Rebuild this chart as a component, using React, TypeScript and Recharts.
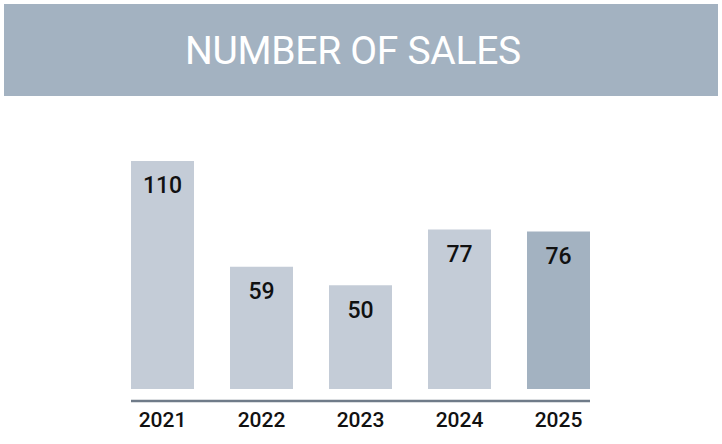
import React from "react";
import { BarChart, Bar, XAxis, YAxis, Cell, LabelList } from "recharts";

const years = ["2021", "2022", "2023", "2024", "2025"];
const sales = [110, 59, 50, 77, 76];
const highlightYear = "2025";

const data = years.map((y, i) => ({ year: y, sales: sales[i] }));

const BAR = 63;
const GAP = 36;

const Tick = (props: any) => {
  const { x, y, payload, index, visibleTicksCount } = props;
  const n = visibleTicksCount ?? years.length;
  const left = index === 0 ? x - BAR / 2 : x - BAR / 2 - GAP / 2;
  const right = index === n - 1 ? x + BAR / 2 : x + BAR / 2 + GAP / 2;
  return (
    <g>
      <line x1={left} x2={right} y1={y + 12} y2={y + 12} stroke="#6F7B89" strokeWidth={2.5} />
      <text
        x={x}
        y={y + 38}
        textAnchor="middle"
        fontSize={21}
        fontWeight={500}
        fill="#111"
        fontFamily="Roboto, sans-serif"
      >
        {payload.value}
      </text>
    </g>
  );
};

export default function App() {
  return (
    <div style={{ position: "absolute", left: 0, top: 0, width: 722, height: 444, background: "#fff" }}>
      <div
        style={{
          position: "absolute",
          left: 4,
          top: 4,
          width: 714,
          height: 92,
          background: "#A3B2C1",
          color: "#fff",
          display: "flex",
          alignItems: "center",
          justifyContent: "center",
          fontFamily: "Roboto, sans-serif",
          fontSize: 39,
          letterSpacing: -0.3,
          paddingTop: 2,
          paddingRight: 16,
          boxSizing: "border-box",
        }}
      >
        NUMBER OF SALES
      </div>
      <div style={{ position: "absolute", left: 0, top: 0 }}>
        <BarChart
          width={722}
          height={444}
          data={data}
          margin={{ top: 161, right: 114, bottom: 15, left: 113 }}
          barCategoryGap={GAP / 2}
        >
          <XAxis
            dataKey="year"
            axisLine={false}
            tickLine={false}
            tickSize={0}
            tickMargin={0}
            height={40}
            interval={0}
            tick={<Tick />}
          />
          <YAxis hide domain={[0, 110]} />
          <Bar dataKey="sales" isAnimationActive={false} barSize={BAR}>
            {data.map((d) => (
              <Cell key={d.year} fill={d.year === highlightYear ? "#A3B2C1" : "#C4CCD7"} />
            ))}
            <LabelList
              dataKey="sales"
              position="insideTop"
              offset={16}
              fontSize={23}
              fontWeight={500}
              fill="#111"
              fontFamily="Roboto, sans-serif"
            />
          </Bar>
        </BarChart>
      </div>
    </div>
  );
}
